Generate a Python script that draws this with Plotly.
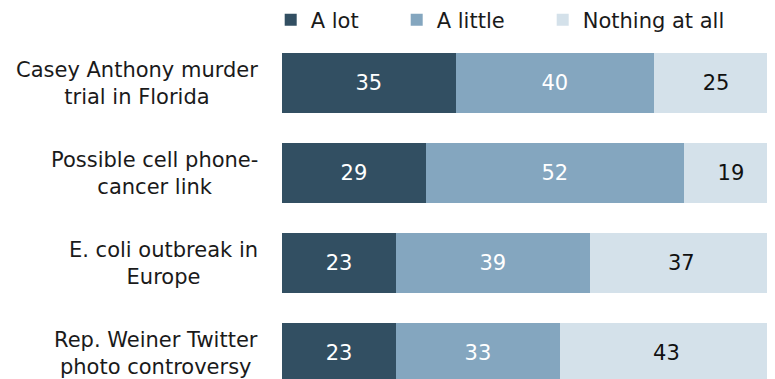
import plotly.graph_objects as go

categories = ["Casey Anthony murder<br>trial in Florida",
              "Possible cell phone-<br>cancer link",
              "E. coli outbreak in<br>Europe",
              "Rep. Weiner Twitter<br>photo controversy"]
series_names = ["A lot", "A little", "Nothing at all"]
a_lot = [35, 29, 23, 23]
a_little = [40, 52, 39, 33]
nothing = [25, 19, 37, 43]

colors = ["#324F62", "#84A6BF", "#D4E1EA"]
text_colors = ["#FFFFFF", "#FFFFFF", "#111111"]
FONT = "DejaVu Sans, Verdana, sans-serif"
FS = 21

# page body has an 8px default margin; figure is sized to end at the window edge
OFF = 8
W, H = 775 - OFF, 379 - OFF
ml, mt = 282 - OFF, 38 - OFF
pw = W - ml
ph = H - mt

fig = go.Figure()
legends = ["legend", "legend2", "legend3"]
for name, vals, col, tcol, lg in zip(series_names, [a_lot, a_little, nothing], colors, text_colors, legends):
    fig.add_trace(go.Bar(
        y=categories, x=vals, name=name, orientation="h",
        marker=dict(color=col, line=dict(width=0)),
        text=[str(v) for v in vals], textposition="inside",
        insidetextanchor="middle", textangle=0,
        textfont=dict(color=tcol, size=FS, family=FONT),
        legend=lg, hoverinfo="skip", cliponaxis=True,
    ))

for cat in categories:
    fig.add_annotation(x=0, xref="paper", y=cat, yref="y", text=cat,
                       xanchor="right", yanchor="middle", align="center",
                       showarrow=False, xshift=-22,
                       font=dict(size=FS, family=FONT, color="#1A1A1A"))

leg_text_x = [310.7 - OFF, 436.7 - OFF, 582.7 - OFF]
leg_common = dict(orientation="h", xanchor="left", yanchor="middle",
                  font=dict(size=FS, family=FONT, color="#1A1A1A"),
                  bgcolor="rgba(0,0,0,0)", borderwidth=0, itemwidth=30,
                  itemclick=False, itemdoubleclick=False)
legend_layout = {}
for lg, tx in zip(legends, leg_text_x):
    d = dict(leg_common)
    d["x"] = (tx - 40 - ml) / pw
    d["y"] = 1 + (mt - (20 - OFF)) / ph
    legend_layout[lg] = d

fig.update_layout(
    width=W, height=H,
    margin=dict(l=ml, r=0, t=mt, b=0, pad=0, autoexpand=False),
    barmode="stack", bargap=0.333,
    plot_bgcolor="white", paper_bgcolor="white",
    font=dict(family=FONT, size=FS, color="#1A1A1A"),
    showlegend=True,
    xaxis=dict(range=[0, pw / 4.96], visible=False, fixedrange=True),
    yaxis=dict(type="category", categoryorder="array", categoryarray=categories,
               range=[3 + (H - (353.3 - OFF)) / 90, -0.5], showticklabels=False,
               showgrid=False, zeroline=False, showline=False, ticks="",
               fixedrange=True),
    uniformtext=dict(minsize=FS, mode="show"),
    **legend_layout,
)

fig.write_html("out.html")
